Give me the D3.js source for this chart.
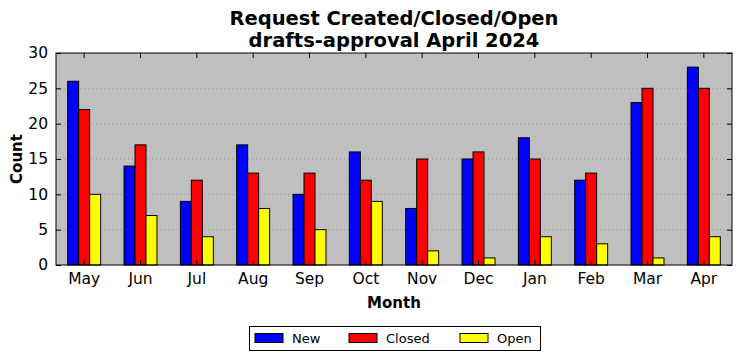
<!DOCTYPE html>
<html><head><meta charset="utf-8">
<script src="https://cdn.jsdelivr.net/npm/d3@7"></script>
<style>body{margin:0;background:#fff}svg{display:block}text{font-family:"DejaVu Sans",sans-serif}</style>
</head><body>
<script>
const months = ["May","Jun","Jul","Aug","Sep","Oct","Nov","Dec","Jan","Feb","Mar","Apr"];
const seriesNames = ["New","Closed","Open"];
const newVals = [26,14,9,17,10,16,8,15,18,12,23,28];
const closedVals = [22,17,12,13,13,12,15,16,15,13,25,25];
const openVals = [10,7,4,8,5,9,2,1,4,3,1,4];
const yTicks = [0,5,10,15,20,25,30];
const colors = ["#0000ff","#ff0000","#ffff00"];

const W=742,H=361;
const m={l:56,r:10,t:53,b:96};
const pw=W-m.l-m.r, ph=H-m.t-m.b;
const svg=d3.select("body").append("svg").attr("width",W).attr("height",H);
const g=svg.append("g").attr("transform",`translate(${m.l},${m.t})`);
const x=d3.scaleBand().domain(months).range([0,pw]).paddingInner(0).paddingOuter(0);
const y=d3.scaleLinear().domain([0,30]).range([ph,0]);
const bw=x.bandwidth()*0.195;

g.append("rect").attr("width",pw).attr("height",ph).attr("fill","#bfbfbf");
// grid
g.selectAll(".grid").data(yTicks.filter(d=>d>0&&d<30)).join("line")
 .attr("x1",0).attr("x2",pw).attr("y1",d=>y(d)).attr("y2",d=>y(d))
 .attr("stroke","#888").attr("stroke-width",0.8).attr("stroke-dasharray","1,3");

const data=[newVals,closedVals,openVals];
data.forEach((vals,si)=>{
  g.selectAll(".b"+si).data(months).join("rect")
   .attr("x",(d,i)=>x(d)+x.bandwidth()/2-1.5*bw+si*bw)
   .attr("y",(d,i)=>y(vals[i]))
   .attr("width",bw).attr("height",(d,i)=>ph-y(vals[i]))
   .attr("fill",colors[si]).attr("stroke","#000").attr("stroke-width",1);
});

// axes
const ax=g.append("g").attr("transform",`translate(0,${ph})`).call(d3.axisBottom(x).tickSizeInner(-5).tickSizeOuter(0).tickPadding(8));
ax.selectAll("text").attr("font-size",15.5).attr("fill","#000").attr("font-family","DejaVu Sans");
const axT=g.append("g").call(d3.axisTop(x).tickSizeInner(-5).tickSizeOuter(0).tickFormat(""));
const ay=g.append("g").call(d3.axisLeft(y).tickValues(yTicks).tickSizeInner(-5).tickSizeOuter(0).tickPadding(8));
ay.selectAll("text").attr("font-size",15.5).attr("fill","#000").attr("font-family","DejaVu Sans");
const ayR=g.append("g").attr("transform",`translate(${pw},0)`).call(d3.axisRight(y).tickValues(yTicks).tickSizeInner(-5).tickSizeOuter(0).tickFormat(""));
[ax,axT,ay,ayR].forEach(a=>{a.select(".domain").remove();a.selectAll("line").attr("stroke","#000");});
g.append("rect").attr("width",pw).attr("height",ph).attr("fill","none").attr("stroke","#000").attr("stroke-width",1);

// titles
svg.append("text").attr("x",m.l+pw/2).attr("y",25).attr("text-anchor","middle").attr("font-weight","bold").attr("font-size",19.5).text("Request Created/Closed/Open");
svg.append("text").attr("x",m.l+pw/2).attr("y",47).attr("text-anchor","middle").attr("font-weight","bold").attr("font-size",19.5).text("drafts-approval April 2024");
svg.append("text").attr("x",m.l+pw/2).attr("y",308).attr("text-anchor","middle").attr("font-weight","bold").attr("font-size",15).text("Month");
svg.append("text").attr("transform",`translate(22,${m.t+ph/2}) rotate(-90)`).attr("text-anchor","middle").attr("font-weight","bold").attr("font-size",15).text("Count");

// legend
const lg=svg.append("g");
lg.append("rect").attr("x",249.5).attr("y",326.5).attr("width",291).attr("height",24).attr("fill","#fff").attr("stroke","#000");
const lx=[255,349,460];
seriesNames.forEach((n,i)=>{
  lg.append("rect").attr("x",lx[i]).attr("y",333.5).attr("width",28).attr("height",9).attr("fill",colors[i]).attr("stroke","#000");
  lg.append("text").attr("x",lx[i]+37).attr("y",343).attr("font-size",13).text(n);
});
</script>
</body></html>
